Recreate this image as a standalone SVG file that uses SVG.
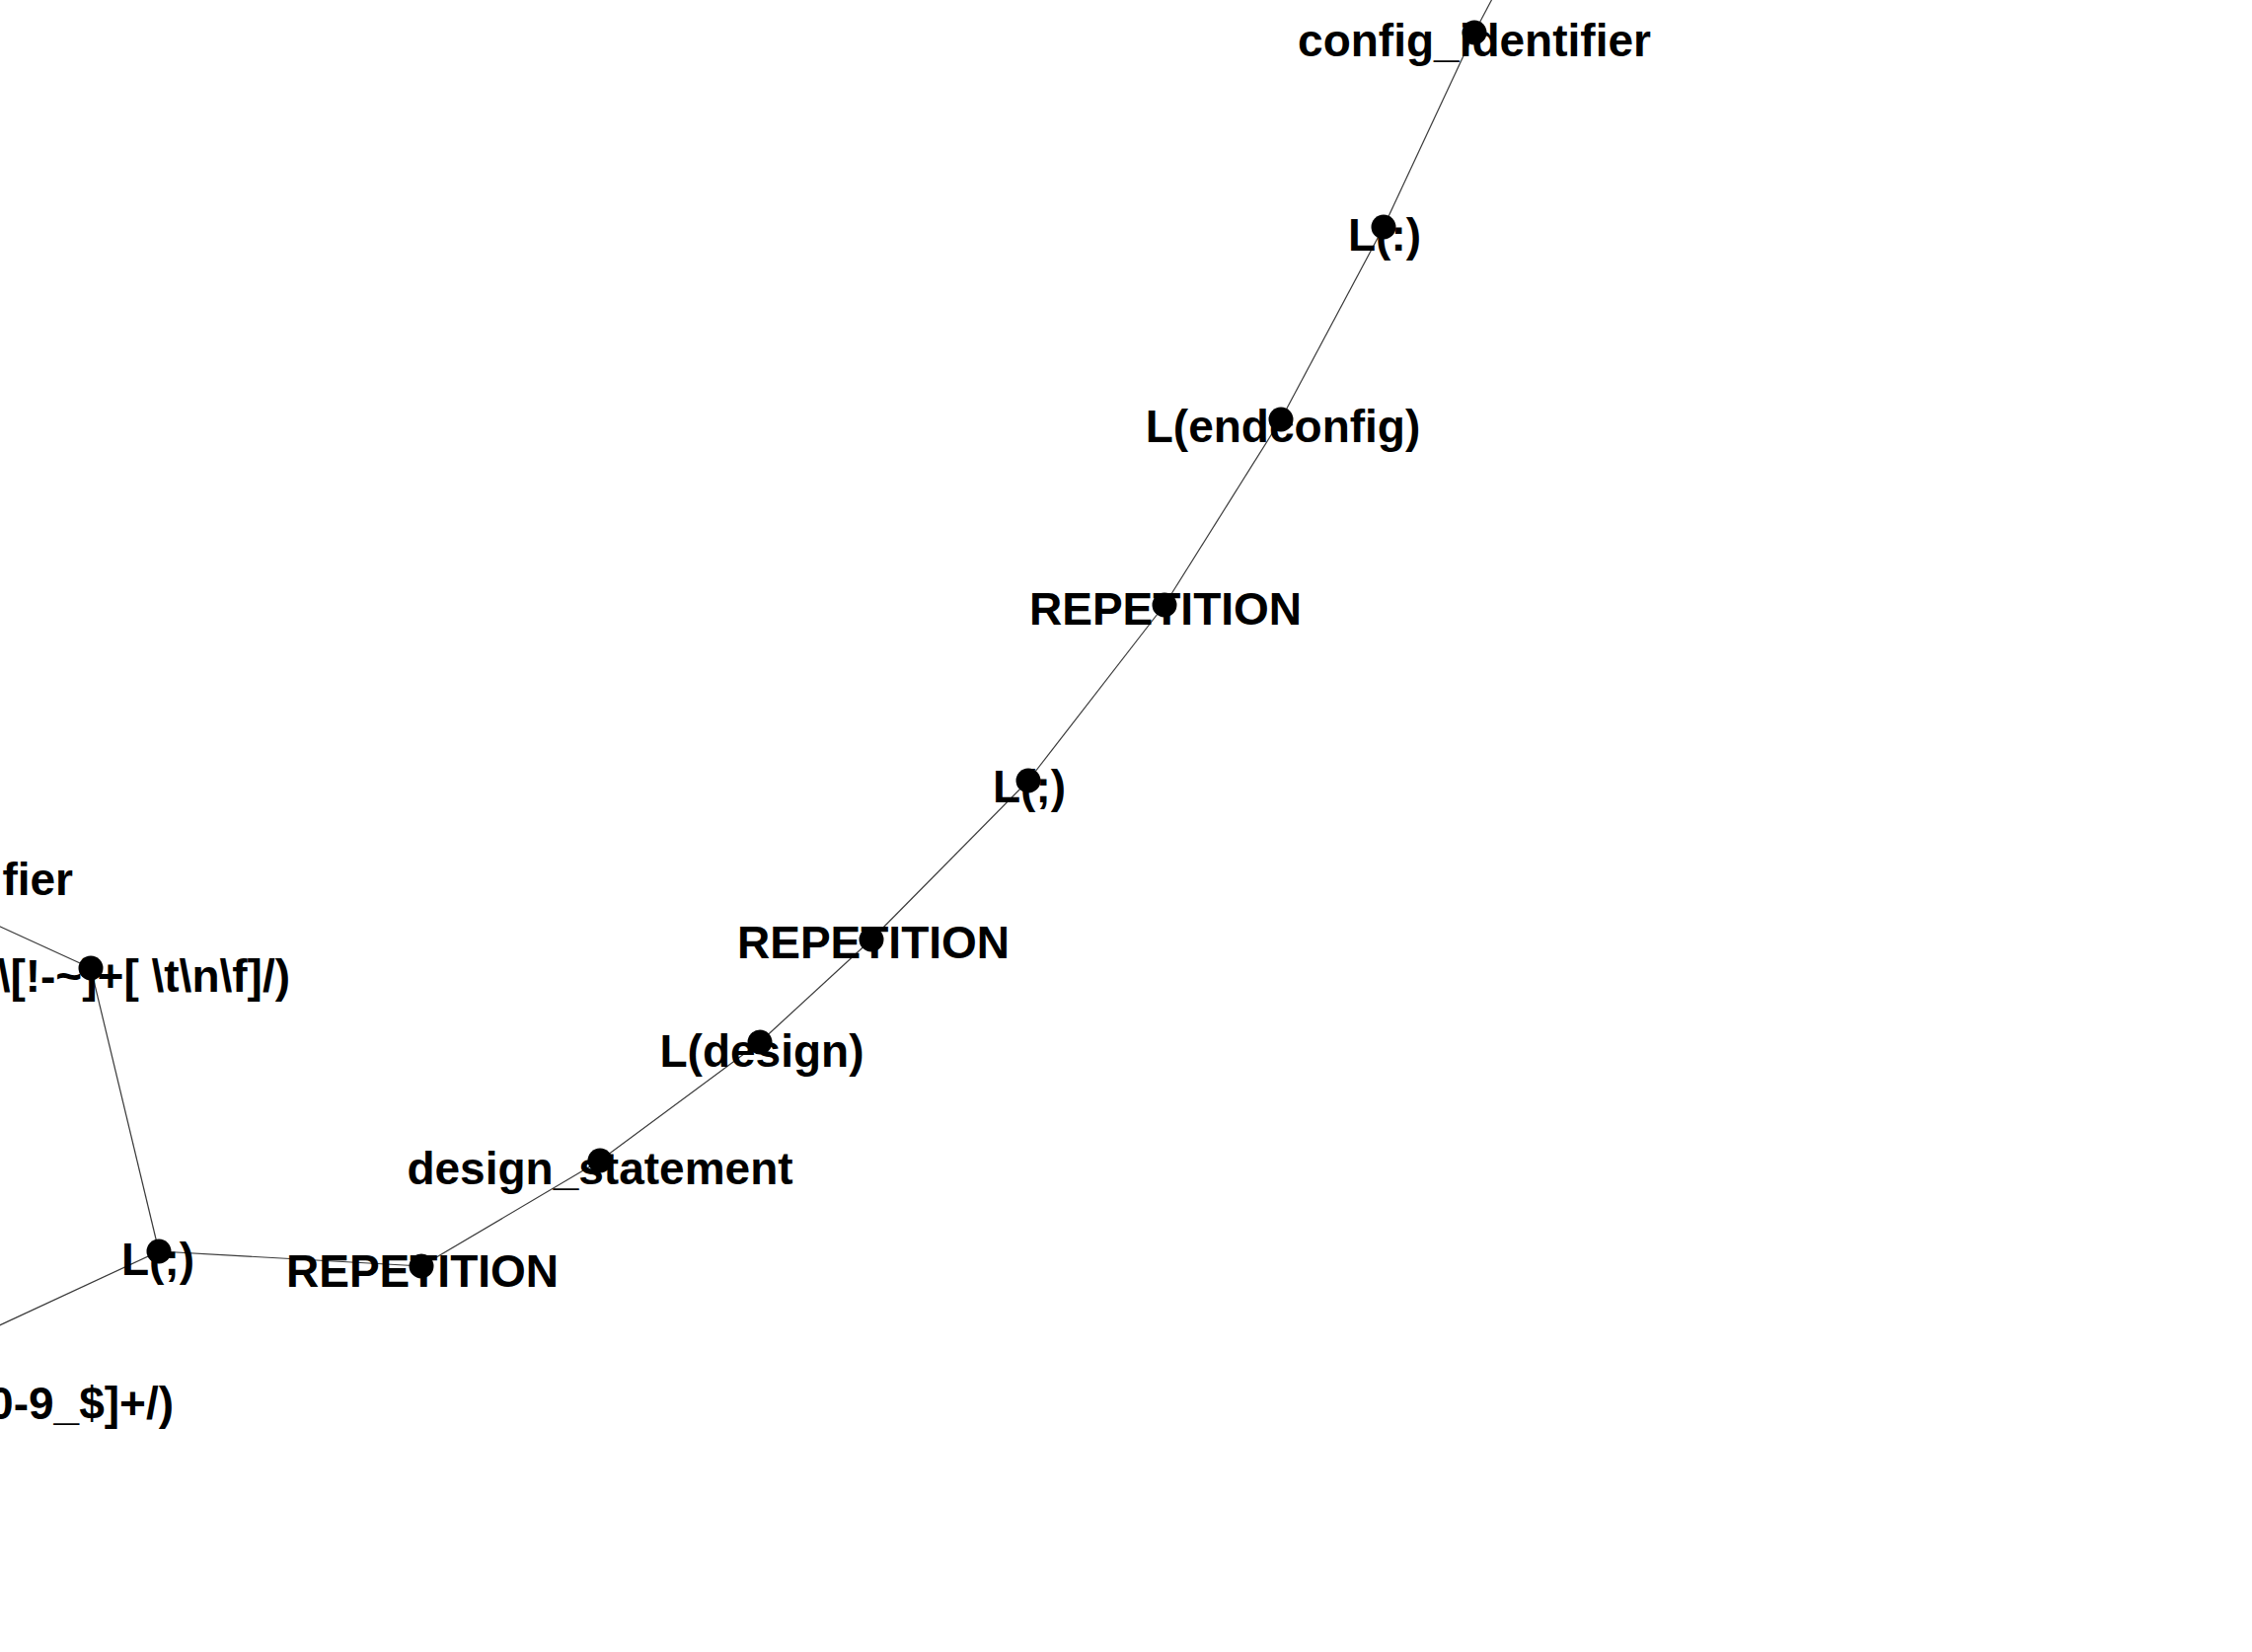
<svg xmlns="http://www.w3.org/2000/svg" width="2282" height="1674" viewBox="0 0 2282 1674">
<style>
.lbl{font-family:"Liberation Sans",Arial,sans-serif;font-weight:bold;font-size:46px;fill:#000;text-anchor:middle}
.end{text-anchor:end}
.dot{fill:#000}
.edge{stroke:#3a3a3a;stroke-width:1.2;fill:none}
</style>
<rect width="2282" height="1674" fill="#fff"/>
<g id="connectors">
<line class="edge" x1="1522" y1="-20" x2="1494" y2="33"/>
<line class="edge" x1="1494" y1="33" x2="1402" y2="230"/>
<line class="edge" x1="1402" y1="230" x2="1298" y2="425"/>
<line class="edge" x1="1298" y1="425" x2="1180" y2="613"/>
<line class="edge" x1="1180" y1="613" x2="1042" y2="791"/>
<line class="edge" x1="1042" y1="791" x2="883" y2="952"/>
<line class="edge" x1="883" y1="952" x2="770" y2="1056"/>
<line class="edge" x1="770" y1="1056" x2="608" y2="1176"/>
<line class="edge" x1="608" y1="1176" x2="427" y2="1283"/>
<line class="edge" x1="427" y1="1283" x2="161" y2="1268"/>
<line class="edge" x1="161" y1="1268" x2="92" y2="981"/>
<line class="edge" x1="92" y1="981" x2="-50" y2="916"/>
<line class="edge" x1="161" y1="1268" x2="-50" y2="1366"/>
</g>
<g id="node-config_identifier"><text class="lbl" x="1494" y="57">config_identifier</text><circle class="dot" cx="1494" cy="33" r="12.5"/></g>
<g id="node-L-colon"><text class="lbl" x="1403" y="254">L(:)</text><circle class="dot" cx="1402" cy="230" r="12.5"/></g>
<g id="node-L-endconfig"><text class="lbl" x="1300" y="448">L(endconfig)</text><circle class="dot" cx="1298" cy="425" r="12.5"/></g>
<g id="node-REPETITION-1"><text class="lbl" x="1181" y="633">REPETITION</text><circle class="dot" cx="1180" cy="613" r="12.5"/></g>
<g id="node-L-semicolon-1"><text class="lbl" x="1043" y="813">L(;)</text><circle class="dot" cx="1042" cy="791" r="12.5"/></g>
<g id="node-REPETITION-2"><text class="lbl" x="885" y="971">REPETITION</text><circle class="dot" cx="883" cy="952" r="12.5"/></g>
<g id="node-L-design"><text class="lbl" x="772" y="1081">L(design)</text><circle class="dot" cx="770" cy="1056" r="12.5"/></g>
<g id="node-design_statement"><text class="lbl" x="608" y="1200">design_statement</text><circle class="dot" cx="608" cy="1176" r="12.5"/></g>
<g id="node-REPETITION-3"><text class="lbl" x="428" y="1304">REPETITION</text><circle class="dot" cx="427" cy="1283" r="12.5"/></g>
<g id="node-L-semicolon-2"><text class="lbl" x="160" y="1292">L(;)</text><circle class="dot" cx="161" cy="1268" r="12.5"/></g>
<g id="node-escaped-identifier-regex"><text class="lbl end" x="294" y="1005">\[!-~]+[ \t\n\f]/)</text><circle class="dot" cx="92" cy="981" r="12.5"/></g>
<g id="node-identifier"><text class="lbl end" x="74" y="907">ifier</text></g>
<g id="node-simple-identifier-regex"><text class="lbl end" x="176" y="1438">0-9_$]+/)</text></g>
</svg>
